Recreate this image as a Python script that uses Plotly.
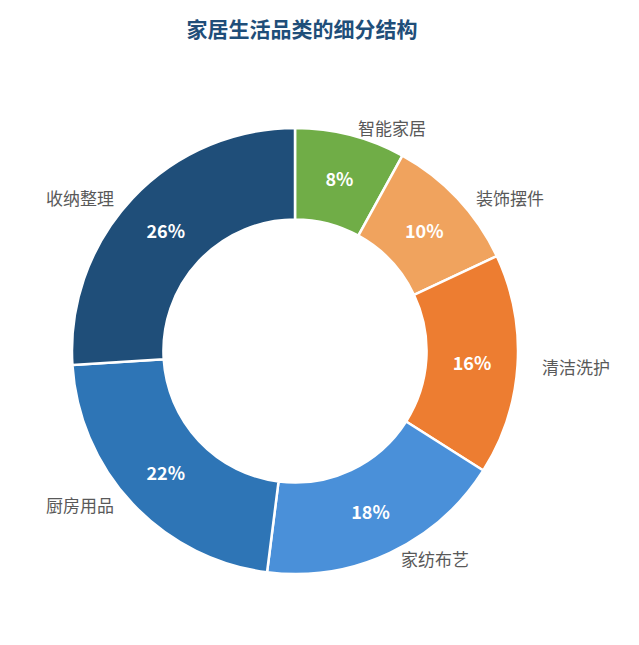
import math
import plotly.graph_objects as go

labels = ["智能家居", "装饰摆件", "清洁洗护", "家纺布艺", "厨房用品", "收纳整理"]
values = [8, 10, 16, 18, 22, 26]
colors = ["#70AD47", "#F0A35E", "#ED7D31", "#4A90D9", "#2E75B6", "#1F4E79"]

fig = go.Figure(go.Pie(
    labels=labels,
    values=values,
    hole=0.59,
    sort=False,
    direction="clockwise",
    rotation=0,
    marker=dict(colors=colors, line=dict(color="white", width=2.5)),
    textinfo="percent",
    textposition="inside",
    insidetextorientation="horizontal",
    texttemplate="%{percent:.0%}",
    textfont=dict(family="Noto Sans CJK SC", size=18, color="white", weight="bold"),
    showlegend=False,
))

# outside category labels placed around the ring, anchored at their inner edge
total = sum(values)
cum = 0
for lab, v in zip(labels, values):
    mid = (cum + v / 2) / total * 2 * math.pi
    cum += v
    r = 0.55
    s = math.sin(mid)
    fig.add_annotation(
        x=0.5 + r * s, y=0.5 + r * math.cos(mid),
        xref="paper", yref="paper", text=lab, showarrow=False,
        xanchor="left" if s > 0 else "right",
        font=dict(family="Noto Sans CJK SC", size=17, color="#595959"),
    )

fig.update_layout(
    width=639, height=645,
    margin=dict(l=64, r=129, t=120, b=79),
    paper_bgcolor="white",
    title=dict(text="家居生活品类的细分结构", x=0.46, xanchor="center", y=0.978,
               font=dict(family="Noto Sans CJK SC", size=21, color="#1F4E79", weight="bold")),
)

fig.write_html("out.html")
